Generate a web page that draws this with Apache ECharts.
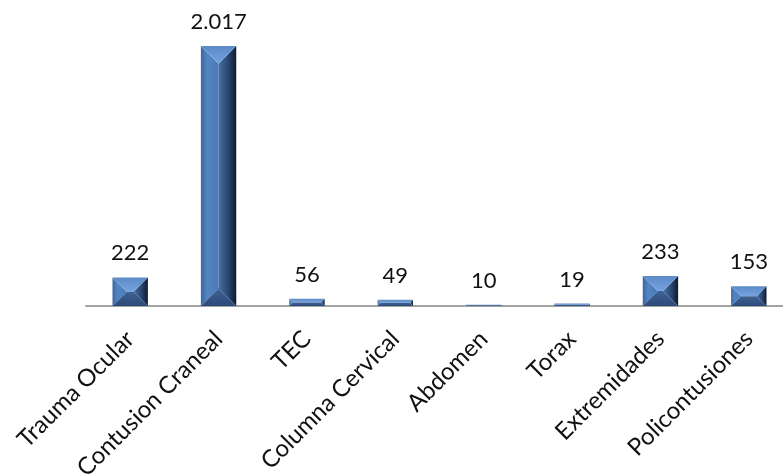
<!DOCTYPE html>
<html>
<head>
<meta charset="utf-8">
<script src="https://cdn.jsdelivr.net/npm/echarts@6/dist/echarts.min.js"></script>
<style>
  html, body { margin: 0; padding: 0; background: #ffffff; }
  #chart { width: 783px; height: 476px; }
</style>
</head>
<body>
<div id="chart"></div>
<script>
// Lesiones por región anatómica
const categories = ['Trauma Ocular', 'Contusion Craneal', 'TEC', 'Columna Cervical', 'Abdomen', 'Torax', 'Extremidades', 'Policontusiones'];
const values = [222, 2017, 56, 49, 10, 19, 233, 153];

const FONT = 'Lato, "Open Sans", sans-serif';

// Spanish thousands separator: 2017 -> "2.017"
function fmt(v) {
  return String(v).replace(/\B(?=(\d{3})+(?!\d))/g, '.');
}

function lg(x1, y1, x2, y2, stops) {
  return new echarts.graphic.LinearGradient(x1, y1, x2, y2,
    stops.map(s => ({ offset: s[0], color: s[1] })));
}

// Bevelled bar: four faces around a (possibly degenerate) inner rectangle
function renderBevelBar(params, api) {
  const idx = api.value(0);
  const val = api.value(1);
  const top = api.coord([idx, val]);
  const base = api.coord([idx, 0]);
  const band = api.size([1, 0])[0];
  const w = band * 0.4;
  const x0 = top[0] - w / 2, x1 = top[0] + w / 2;
  const y0 = top[1], y1 = base[1];
  const h = Math.max(y1 - y0, 0.8);
  const yb = y0 + h;
  const d = Math.min(w, h) / 2;
  const ix0 = x0 + d, ix1 = x1 - d, iy0 = y0 + d, iy1 = yb - d;

  const faces = [
    // left face
    { pts: [[x0, y0], [ix0, iy0], [ix0, iy1], [x0, yb]],
      fill: lg(0, 0, 1, 0, [[0, '#3b67a2'], [0.35, '#5484c2'], [1, '#4a79b6']]) },
    // right face
    { pts: [[x1, y0], [ix1, iy0], [ix1, iy1], [x1, yb]],
      fill: lg(0, 0, 1, 0, [[0, '#44709f'], [0.55, '#2a4670'], [1, '#0f1a2e']]) },
    // top face
    { pts: [[x0, y0], [x1, y0], [ix1, iy0], [ix0, iy0]],
      fill: lg(0, 0, 0, 1, [[0, '#5b8ac6'], [1, '#74a3df']]) },
    // bottom face
    { pts: [[x0, yb], [x1, yb], [ix1, iy1], [ix0, iy1]],
      fill: lg(0, 0, 0, 1, [[0, '#3e6396'], [1, '#2c4a78']]) }
  ];
  const children = faces.map(f => ({
    type: 'polygon',
    shape: { points: f.pts },
    style: { fill: f.fill, stroke: null }
  }));
  if (ix1 > ix0 || iy1 > iy0) {
    children.push({
      type: 'rect',
      shape: { x: ix0, y: iy0, width: ix1 - ix0, height: iy1 - iy0 },
      style: { fill: '#4a78b4' }
    });
  }
  children.push({
    type: 'text',
    style: {
      text: fmt(val),
      x: top[0],
      y: y0 - 13,
      align: 'center',
      verticalAlign: 'bottom',
      fill: '#111111',
      font: '22px ' + FONT
    }
  });
  return { type: 'group', children: children };
}

const chart = echarts.init(document.getElementById('chart'), null, { renderer: 'canvas' });
chart.setOption({
  animation: false,
  backgroundColor: '#ffffff',
  grid: { left: 86, width: 707, top: 46, bottom: 170, containLabel: false, outerBoundsMode: 'none' },
  xAxis: {
    type: 'category',
    data: categories,
    axisLine: { show: true, lineStyle: { color: '#a3a3a3', width: 2 } },
    axisTick: { show: false },
    axisLabel: {
      rotate: 45,
      interval: 0,
      margin: 29,
      color: '#111111',
      fontFamily: FONT,
      fontSize: 24
    }
  },
  yAxis: {
    type: 'value',
    min: 0,
    max: 2017,
    show: false,
    splitLine: { show: false }
  },
  series: [{
    type: 'custom',
    renderItem: renderBevelBar,
    data: values.map((v, i) => [i, v]),
    clip: false
  }]
});
</script>
</body>
</html>
